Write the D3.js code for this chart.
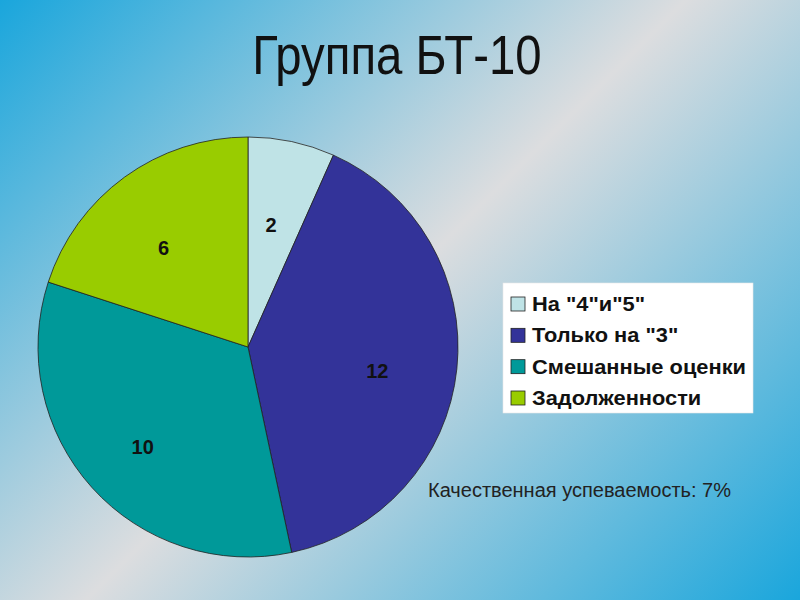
<!DOCTYPE html>
<html>
<head>
<meta charset="utf-8">
<script src="https://cdn.jsdelivr.net/npm/d3@7"></script>
<style>
  html, body { margin: 0; padding: 0; }
  svg { display: block; }
</style>
</head>
<body>
<svg id="chart" width="800" height="600"></svg>
<script>
const title = "Группа БТ-10";
const categories = ["На \"4\"и\"5\"", "Только на \"3\"", "Смешанные оценки", "Задолженности"];
const values = [2, 12, 10, 6];
const colors = ["#bfe3e6", "#333399", "#009999", "#99cc00"];
const note = "Качественная успеваемость: 7%";

const svg = d3.select("#chart");
const W = 800, H = 600;
const FONT = "Liberation Sans, Arial, sans-serif";

// background gradient
const defs = svg.append("defs");
const grad = defs.append("linearGradient")
  .attr("id", "bg").attr("gradientUnits", "userSpaceOnUse")
  .attr("x1", 0).attr("y1", 0).attr("x2", 700).attr("y2", 700);
grad.append("stop").attr("offset", 0).attr("stop-color", "#1aa6dc");
grad.append("stop").attr("offset", 0.49).attr("stop-color", "#dcdddf");
grad.append("stop").attr("offset", 1).attr("stop-color", "#1aa6dc");
svg.append("rect").attr("width", W).attr("height", H).attr("fill", "url(#bg)");

// title (slightly condensed)
svg.append("text")
  .attr("transform", "translate(397,74) scale(0.845,1)")
  .attr("text-anchor", "middle")
  .attr("font-family", FONT)
  .attr("font-size", 56)
  .attr("fill", "#111")
  .text(title);

// pie
const cx = 248, cy = 347, R = 210;
const pie = d3.pie().sort(null).value(d => d)(values);
const arc = d3.arc().innerRadius(0).outerRadius(R);
const labelArc = d3.arc().innerRadius(135).outerRadius(135);

const g = svg.append("g").attr("transform", `translate(${cx},${cy})`);
g.selectAll("path.slice").data(pie).join("path")
  .attr("class", "slice")
  .attr("d", arc)
  .attr("fill", (d, i) => colors[i])
  .attr("stroke", "#222")
  .attr("stroke-width", 0.8);

g.selectAll("text.lbl").data(pie).join("text")
  .attr("class", "lbl")
  .attr("transform", d => { const c = labelArc.centroid(d); return `translate(${c[0] - 5},${c[1] + 10})`; })
  .attr("text-anchor", "middle")
  .attr("dy", "0.35em")
  .attr("font-family", FONT)
  .attr("font-weight", "bold")
  .attr("font-size", 20)
  .attr("fill", "#111")
  .text(d => d.data);

// legend
const lx = 503, ly = 283, lw = 250, lh = 130;
const lg = svg.append("g");
lg.append("rect")
  .attr("x", lx).attr("y", ly).attr("width", lw).attr("height", lh)
  .attr("fill", "#ffffff").attr("stroke", "#e8e8e8").attr("stroke-width", 0.6);
const ys = d3.scalePoint().domain(categories).range([ly + 21, ly + 115]);
const items = lg.selectAll("g.item").data(categories).join("g").attr("class", "item")
  .attr("transform", d => `translate(${lx}, ${ys(d)})`);
items.append("rect")
  .attr("x", 8).attr("y", -7).attr("width", 14).attr("height", 14)
  .attr("fill", (d, i) => colors[i]).attr("stroke", "#222").attr("stroke-width", 0.8);
items.append("text")
  .attr("transform", "translate(29,0) scale(1.12,1)")
  .attr("dy", "0.36em")
  .attr("font-family", FONT)
  .attr("font-weight", "bold")
  .attr("font-size", 19.5)
  .attr("fill", "#111")
  .text(d => d);

// note
svg.append("text")
  .attr("x", 428).attr("y", 497)
  .attr("font-family", FONT)
  .attr("font-size", 20)
  .attr("fill", "#222")
  .text(note);
</script>
</body>
</html>
